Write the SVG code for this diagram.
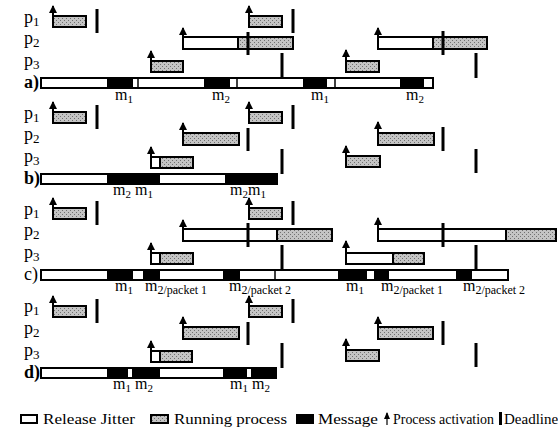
<svg xmlns="http://www.w3.org/2000/svg" width="558" height="430" viewBox="0 0 558 430">
<style>
.bg{fill:#fff}
.run{fill:url(#hatch);stroke:#000;stroke-width:2}
.jit{fill:#fff;stroke:#000;stroke-width:2}
.out{fill:none;stroke:#000;stroke-width:2}
.msg{fill:#000}
.div{stroke:#000;stroke-width:1.5}
.dl{stroke:#000;stroke-width:3}
.act{stroke:#000;stroke-width:2;marker-end:url(#ah)}
.lbl{font-family:"Liberation Serif","Times New Roman",serif;font-size:18px;fill:#000}
.row{font-weight:bold}
.ml{font-family:"Liberation Serif","Times New Roman",serif;font-size:16px;fill:#000}
.leg{font-family:"Liberation Serif","Times New Roman",serif;font-size:15px;fill:#000}
</style>
<defs>
<pattern id="hatch" width="4" height="4" patternUnits="userSpaceOnUse">
<rect width="4" height="4" fill="#c4c4c4"/>
<rect width="1" height="1" fill="#707070"/>
<rect x="2" y="2" width="1" height="1" fill="#707070"/>
</pattern>
<marker id="ah" markerWidth="9" markerHeight="9" refX="7" refY="4" orient="auto" markerUnits="userSpaceOnUse">
<path d="M0,0 L8,4 L0,8 z" fill="#000"/>
</marker>
</defs>
<rect class="bg" width="558" height="430"/>

<!-- ===== Row a ===== -->
<g id="row-a">
<g id="a-labels">
<text class="lbl" x="24" y="23">p<tspan font-size="13" dy="3">1</tspan></text>
<text class="lbl" x="24" y="44">p<tspan font-size="13" dy="3">2</tspan></text>
<text class="lbl" x="24" y="66">p<tspan font-size="13" dy="3">3</tspan></text>
<text class="lbl row" x="24" y="88">a)</text>
</g>
<g id="a-p1">
<rect class="run" x="53" y="16" width="33" height="11"/>
<rect class="run" x="249" y="16" width="33" height="11"/>
<line class="dl" x1="97" y1="9" x2="97" y2="33"/>
<line class="dl" x1="293" y1="9" x2="293" y2="33"/>
</g>
<g id="a-p2">
<rect class="jit" x="183" y="37" width="55" height="12"/>
<rect class="run" x="238" y="37" width="55" height="12"/>
<rect class="jit" x="378" y="37" width="55" height="12"/>
<rect class="run" x="433" y="37" width="54" height="12"/>
<line class="dl" x1="248" y1="32" x2="248" y2="55"/>
<line class="dl" x1="443" y1="31" x2="443" y2="55"/>
</g>
<g id="a-p3">
<rect class="run" x="151" y="61" width="32" height="11"/>
<rect class="run" x="346" y="61" width="33" height="11"/>
<line class="dl" x1="282" y1="53" x2="282" y2="78"/>
<line class="dl" x1="476" y1="53" x2="476" y2="78"/>
</g>
<g id="a-bus">
<rect class="jit" x="41" y="78" width="392" height="10"/>
<rect class="msg" x="107" y="78" width="26" height="10"/>
<rect class="msg" x="204" y="78" width="26" height="10"/>
<rect class="msg" x="303" y="78" width="24" height="10"/>
<rect class="msg" x="400" y="78" width="24" height="10"/>
<line class="div" x1="138" y1="78" x2="138" y2="88"/>
<line class="div" x1="237" y1="78" x2="237" y2="88"/>
<line class="div" x1="335" y1="78" x2="335" y2="88"/>
<rect class="out" x="41" y="78" width="392" height="10"/>
<text class="ml" x="115" y="100">m<tspan font-size="11" dy="3">1</tspan></text>
<text class="ml" x="212" y="100">m<tspan font-size="11" dy="3">2</tspan></text>
<text class="ml" x="311" y="100">m<tspan font-size="11" dy="3">1</tspan></text>
<text class="ml" x="406" y="100">m<tspan font-size="11" dy="3">2</tspan></text>
</g>
</g>

<!-- ===== Row b ===== -->
<g id="row-b">
<g id="b-labels">
<text class="lbl" x="24" y="119">p<tspan font-size="13" dy="3">1</tspan></text>
<text class="lbl" x="24" y="140">p<tspan font-size="13" dy="3">2</tspan></text>
<text class="lbl" x="24" y="162">p<tspan font-size="13" dy="3">3</tspan></text>
<text class="lbl row" x="24" y="184">b)</text>
</g>
<g id="b-p1">
<rect class="run" x="53" y="112" width="33" height="11"/>
<rect class="run" x="249" y="112" width="33" height="11"/>
<line class="dl" x1="97" y1="105" x2="97" y2="129"/>
<line class="dl" x1="293" y1="105" x2="293" y2="129"/>
</g>
<g id="b-p2">
<rect class="run" x="183" y="133" width="56" height="12"/>
<rect class="run" x="378" y="133" width="56" height="12"/>
<line class="dl" x1="248" y1="128" x2="248" y2="151"/>
<line class="dl" x1="443" y1="127" x2="443" y2="151"/>
</g>
<g id="b-p3">
<rect class="jit" x="151" y="157" width="9" height="11"/>
<rect class="run" x="160" y="157" width="33" height="11"/>
<rect class="run" x="346" y="156" width="34" height="11"/>
<line class="dl" x1="282" y1="149" x2="282" y2="174"/>
<line class="dl" x1="476" y1="149" x2="476" y2="173"/>
</g>
<g id="b-bus">
<rect class="jit" x="41" y="174" width="236" height="10"/>
<rect class="msg" x="107" y="174" width="53" height="10"/>
<rect class="msg" x="225" y="174" width="52" height="10"/>
<rect class="out" x="41" y="174" width="236" height="10"/>
<text class="ml" x="113" y="195">m<tspan font-size="11" dy="3">2</tspan><tspan dy="-3"> m</tspan><tspan font-size="11" dy="3">1</tspan></text>
<text class="ml" x="230" y="195">m<tspan font-size="11" dy="3">2</tspan><tspan dy="-3">m</tspan><tspan font-size="11" dy="3">1</tspan></text>
</g>
</g>

<!-- ===== Row c ===== -->
<g id="row-c">
<g id="c-labels">
<text class="lbl" x="24" y="215">p<tspan font-size="13" dy="3">1</tspan></text>
<text class="lbl" x="24" y="236">p<tspan font-size="13" dy="3">2</tspan></text>
<text class="lbl" x="24" y="258">p<tspan font-size="13" dy="3">3</tspan></text>
<text class="lbl" x="24" y="280">c)</text>
</g>
<g id="c-p1">
<rect class="run" x="53" y="208" width="33" height="11"/>
<rect class="run" x="249" y="208" width="33" height="11"/>
<line class="dl" x1="97" y1="201" x2="97" y2="225"/>
<line class="dl" x1="293" y1="201" x2="293" y2="225"/>
</g>
<g id="c-p2">
<rect class="jit" x="183" y="229" width="94" height="12"/>
<rect class="run" x="277" y="229" width="55" height="12"/>
<rect class="jit" x="378" y="229" width="128" height="12"/>
<rect class="run" x="506" y="229" width="50" height="12"/>
<line class="dl" x1="248" y1="223" x2="248" y2="247"/>
<line class="dl" x1="443" y1="223" x2="443" y2="247"/>
</g>
<g id="c-p3">
<rect class="jit" x="151" y="253" width="9" height="11"/>
<rect class="run" x="160" y="253" width="33" height="11"/>
<rect class="jit" x="346" y="253" width="47" height="11"/>
<rect class="run" x="393" y="253" width="31" height="11"/>
<line class="dl" x1="282" y1="245" x2="282" y2="270"/>
<line class="dl" x1="476" y1="245" x2="476" y2="269"/>
</g>
<g id="c-bus">
<rect class="jit" x="41" y="270" width="467" height="10"/>
<rect class="msg" x="107" y="270" width="26" height="10"/>
<rect class="msg" x="143" y="270" width="17" height="10"/>
<rect class="msg" x="223" y="270" width="17" height="10"/>
<rect class="msg" x="338" y="270" width="29" height="10"/>
<rect class="msg" x="374" y="270" width="15" height="10"/>
<rect class="msg" x="456" y="270" width="16" height="10"/>
<line class="div" x1="275" y1="270" x2="275" y2="280"/>
<rect class="out" x="41" y="270" width="467" height="10"/>
<text class="ml" x="115" y="291">m<tspan font-size="11" dy="3">1</tspan></text>
<text class="ml" x="145" y="291">m<tspan font-size="12" dy="3">2/packet 1</tspan></text>
<text class="ml" x="229" y="291">m<tspan font-size="12" dy="3">2/packet 2</tspan></text>
<text class="ml" x="346" y="291">m<tspan font-size="11" dy="3">1</tspan></text>
<text class="ml" x="381" y="291">m<tspan font-size="12" dy="3">2/packet 1</tspan></text>
<text class="ml" x="463" y="291">m<tspan font-size="12" dy="3">2/packet 2</tspan></text>
</g>
</g>

<!-- ===== Row d ===== -->
<g id="row-d">
<g id="d-labels">
<text class="lbl" x="24" y="312">p<tspan font-size="13" dy="3">1</tspan></text>
<text class="lbl" x="24" y="334">p<tspan font-size="13" dy="3">2</tspan></text>
<text class="lbl" x="24" y="356">p<tspan font-size="13" dy="3">3</tspan></text>
<text class="lbl row" x="24" y="378">d)</text>
</g>
<g id="d-p1">
<rect class="run" x="53" y="306" width="33" height="11"/>
<rect class="run" x="249" y="306" width="33" height="11"/>
<line class="dl" x1="97" y1="299" x2="97" y2="323"/>
<line class="dl" x1="293" y1="299" x2="293" y2="323"/>
</g>
<g id="d-p2">
<rect class="run" x="183" y="327" width="56" height="12"/>
<rect class="run" x="378" y="327" width="55" height="12"/>
<line class="dl" x1="248" y1="322" x2="248" y2="345"/>
<line class="dl" x1="443" y1="321" x2="443" y2="345"/>
</g>
<g id="d-p3">
<rect class="jit" x="151" y="351" width="9" height="11"/>
<rect class="run" x="160" y="351" width="32" height="11"/>
<rect class="run" x="346" y="350" width="33" height="11"/>
<line class="dl" x1="282" y1="343" x2="282" y2="368"/>
<line class="dl" x1="476" y1="343" x2="476" y2="367"/>
</g>
<g id="d-bus">
<rect class="jit" x="41" y="368" width="235" height="10"/>
<rect class="msg" x="107" y="368" width="21" height="10"/>
<rect class="msg" x="132" y="368" width="28" height="10"/>
<rect class="msg" x="223" y="368" width="24" height="10"/>
<rect class="msg" x="251" y="368" width="25" height="10"/>
<rect class="out" x="41" y="368" width="235" height="10"/>
<text class="ml" x="113" y="389">m<tspan font-size="11" dy="3">1</tspan><tspan dy="-3"> m</tspan><tspan font-size="11" dy="3">2</tspan></text>
<text class="ml" x="230" y="389">m<tspan font-size="11" dy="3">1</tspan><tspan dy="-3"> m</tspan><tspan font-size="11" dy="3">2</tspan></text>
</g>
</g>

<!-- ===== Process activations ===== -->
<g id="connectors">
<line class="act" x1="53" y1="27" x2="53" y2="6"/>
<line class="act" x1="249" y1="27" x2="249" y2="6"/>
<line class="act" x1="183" y1="49" x2="183" y2="28"/>
<line class="act" x1="378" y1="49" x2="378" y2="28"/>
<line class="act" x1="151" y1="72" x2="151" y2="51"/>
<line class="act" x1="346" y1="72" x2="346" y2="50"/>

<line class="act" x1="53" y1="123" x2="53" y2="102"/>
<line class="act" x1="249" y1="123" x2="249" y2="102"/>
<line class="act" x1="183" y1="145" x2="183" y2="123"/>
<line class="act" x1="378" y1="145" x2="378" y2="122"/>
<line class="act" x1="151" y1="168" x2="151" y2="147"/>
<line class="act" x1="346" y1="167" x2="346" y2="146"/>

<line class="act" x1="53" y1="219" x2="53" y2="198"/>
<line class="act" x1="249" y1="219" x2="249" y2="198"/>
<line class="act" x1="183" y1="241" x2="183" y2="220"/>
<line class="act" x1="378" y1="241" x2="378" y2="218"/>
<line class="act" x1="151" y1="264" x2="151" y2="243"/>
<line class="act" x1="346" y1="264" x2="346" y2="241"/>

<line class="act" x1="53" y1="317" x2="53" y2="296"/>
<line class="act" x1="249" y1="317" x2="249" y2="296"/>
<line class="act" x1="183" y1="339" x2="183" y2="317"/>
<line class="act" x1="378" y1="339" x2="378" y2="317"/>
<line class="act" x1="151" y1="362" x2="151" y2="341"/>
<line class="act" x1="346" y1="361" x2="346" y2="339"/>
</g>

<!-- ===== Legend ===== -->
<g id="legend">
<rect x="21" y="415" width="16" height="8" fill="#fff" stroke="#000" stroke-width="2"/>
<text class="leg" x="43" y="424" textLength="92" lengthAdjust="spacingAndGlyphs">Release Jitter</text>
<rect x="151" y="415" width="17" height="8" fill="url(#hatch)" stroke="#000" stroke-width="2"/>
<text class="leg" x="174" y="424" textLength="113" lengthAdjust="spacingAndGlyphs">Running process</text>
<rect x="296" y="414" width="18" height="10" fill="#000"/>
<text class="leg" x="318" y="424" textLength="60" lengthAdjust="spacingAndGlyphs">Message</text>
<line x1="387" y1="425" x2="387" y2="413" stroke="#000" stroke-width="1.2"/>
<path d="M384,419 L387,412 L390,419 z" fill="#000"/>
<text class="leg" x="393" y="424" textLength="101" lengthAdjust="spacingAndGlyphs">Process activation</text>
<rect x="499" y="412" width="3" height="13" fill="#000"/>
<text class="leg" x="504" y="424" font-size="14">Deadline</text>
</g>
</svg>
